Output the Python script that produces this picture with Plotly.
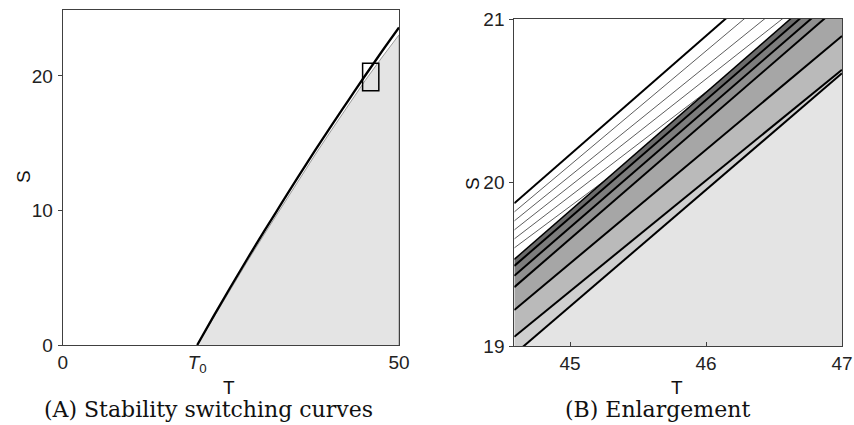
import plotly.graph_objects as go

# ---------------- Panel A: stability switching curves ----------------
T0 = 20.0
curve_T = [20.0, 22.5, 25.0, 27.5, 30.0, 32.5, 35.0, 37.5, 40.0, 42.5, 45.0, 47.5, 50.0]
curve_S = [0.0, 2.2, 4.35, 6.45, 8.5, 10.5, 12.5, 14.45, 16.35, 18.2, 20.05, 21.85, 23.6]
stable_S = [0.0, 2.1, 4.2, 6.25, 8.25, 10.22, 12.18, 14.12, 16.0, 17.85, 19.68, 21.4, 23.05]
axA_T = [0, 50]
axA_S = [0, 24.9]
xticksA = [0, T0, 50]
xtick_textA = ["0", "<i>T</i><sub>0</sub>", "50"]
yticksA = [0, 10, 20]

# ---------------- Panel B: enlargement ----------------
enl_T = [44.59, 47.0]
enl_S = [19.0, 21.0]
# hatch (thin) curves: S at left edge and at right edge of the window
hatch_S_left = [19.82, 19.765, 19.71, 19.655, 19.60]
hatch_S_right = [21.503, 21.383, 21.288, 21.191, 21.092]
# boundary curves (top to bottom): S at left edge and right edge
bound_S_left = [19.873, 19.53, 19.49, 19.43, 19.36, 19.22, 19.057, 18.95]
bound_S_right = [21.623, 21.275, 21.225, 21.165, 21.095, 20.896, 20.690, 20.668]
band_colors = ["#6b6b6b", "#7d7d7d", "#8f8f8f", "#a6a6a6", "#bababa", "#cfcfcf"]
below_color = "#e4e4e4"
xticksB = [45, 46, 47]
yticksB = [19, 20, 21]

W, H = 854, 425
fig = go.Figure()

# Panel A fill (stable region)
fig.add_trace(go.Scatter(
    x=curve_T + [axA_T[1]], y=stable_S + [0],
    fill="toself", fillcolor="#e4e4e4", mode="lines",
    line=dict(color="#9a9a9a", width=1), xaxis="x", yaxis="y",
    hoverinfo="skip", showlegend=False))
fig.add_trace(go.Scatter(
    x=curve_T, y=curve_S, mode="lines", line=dict(color="black", width=2.3, shape="spline"),
    xaxis="x", yaxis="y", showlegend=False))

# Panel B: hatch lines
for sl, sr in zip(hatch_S_left, hatch_S_right):
    fig.add_trace(go.Scatter(x=enl_T, y=[sl, sr], mode="lines",
                             line=dict(color="#333333", width=0.8),
                             xaxis="x2", yaxis="y2", showlegend=False))
# Panel B: bands
for i, c in enumerate(band_colors):
    up_l, up_r = bound_S_left[i + 1], bound_S_right[i + 1]
    lo_l, lo_r = bound_S_left[i + 2], bound_S_right[i + 2]
    fig.add_trace(go.Scatter(
        x=[enl_T[0], enl_T[1], enl_T[1], enl_T[0]], y=[up_l, up_r, lo_r, lo_l],
        fill="toself", fillcolor=c, mode="lines", line=dict(width=0),
        xaxis="x2", yaxis="y2", showlegend=False, hoverinfo="skip"))
fig.add_trace(go.Scatter(
    x=enl_T, y=[bound_S_left[-1], bound_S_right[-1]], fill="tozeroy",
    fillcolor=below_color, mode="lines", line=dict(width=0),
    xaxis="x2", yaxis="y2", showlegend=False, hoverinfo="skip"))
# Panel B: boundary lines
for i, (sl, sr) in enumerate(zip(bound_S_left, bound_S_right)):
    fig.add_trace(go.Scatter(x=enl_T, y=[sl, sr], mode="lines",
                             line=dict(color="black", width=1.5 if i == 1 else 2),
                             xaxis="x2", yaxis="y2", showlegend=False))

# zoom box on panel A
fig.add_shape(type="rect", xref="x", yref="y", x0=enl_T[0], x1=enl_T[1],
              y0=enl_S[0] - 0.1, y1=enl_S[1] - 0.05, line=dict(color="black", width=1.5))

tickfont = dict(family="Liberation Sans, Arial", size=19, color="#222")
axis_common = dict(showline=True, mirror=True, linecolor="#404040", linewidth=1,
                   showgrid=False, zeroline=False, tickfont=tickfont,
                   tickcolor="#404040", automargin=False)

fig.update_layout(
    width=W, height=H, margin=dict(l=0, r=0, t=0, b=0, autoexpand=False),
    paper_bgcolor="white", plot_bgcolor="white", showlegend=False,
    xaxis=dict(domain=[62.7 / W, 399 / W], range=axA_T, tickvals=xticksA,
               ticktext=xtick_textA, ticks="", ticklabelstandoff=0, anchor="y", **axis_common),
    yaxis=dict(domain=[1 - 345 / H, 1 - 10 / H], range=axA_S, tickvals=yticksA,
               ticks="outside", ticklen=4, ticklabelstandoff=1, anchor="x", **axis_common),
    xaxis2=dict(domain=[514.3 / W, 842 / W], range=enl_T, tickvals=xticksB,
                ticks="inside", ticklen=4, ticklabelstandoff=0, anchor="y2", **axis_common),
    yaxis2=dict(domain=[1 - 346 / H, 1 - 19 / H], range=enl_S, tickvals=yticksB,
                ticks="outside", ticklen=4, ticklabelstandoff=1, anchor="x2", **axis_common),
)

def ann(text, px, py, size=19, family="Liberation Sans, Arial", angle=0):
    fig.add_annotation(text=text, x=px / W, y=1 - py / H, xref="paper", yref="paper",
                       showarrow=False, xanchor="center", yanchor="middle",
                       textangle=angle, font=dict(family=family, size=size, color="#111"))

ann("S", 23, 177, angle=-90)
ann("T", 229, 387)
ann("S", 472, 183, angle=-90)
ann("T", 677, 387)
ann("(A) Stability switching curves", 208, 409, size=22, family="DejaVu Serif")
ann("(B) Enlargement", 657, 409, size=22, family="DejaVu Serif")

fig.write_html("out.html")
